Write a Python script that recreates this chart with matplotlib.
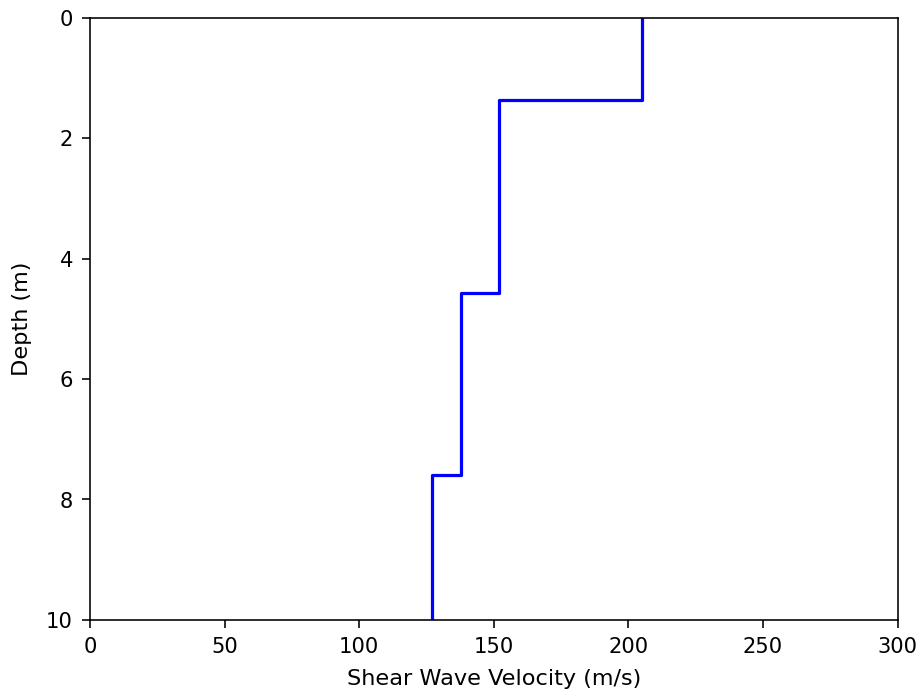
import numpy as np
import matplotlib.pyplot as plt

# layered shear wave velocity profile
layer_top = [0.0, 1.36, 4.57, 7.6]
layer_bot = [1.36, 4.57, 7.6, 10.0]
vs = [205, 152, 138, 127]

# build the staircase: each layer is a vertical segment at its velocity
x = np.repeat(vs, 2)
y = np.ravel(np.column_stack((layer_top, layer_bot)))

fig, ax = plt.subplots(figsize=(6.4, 4.8), dpi=144)
ax.plot(x, y, 'b-', lw=1.6)
ax.set_xlim(0, 300)
ax.set_ylim(10, 0)
ax.tick_params(labelsize=10.5, length=4, pad=4.5)
ax.set_xlabel('Shear Wave Velocity (m/s)', fontsize=11.2, labelpad=6)
ax.set_ylabel('Depth (m)', fontsize=11.2, labelpad=7)
fig.subplots_adjust(left=0.0976, right=0.974, top=0.974, bottom=0.103)
fig.savefig('out.png')
